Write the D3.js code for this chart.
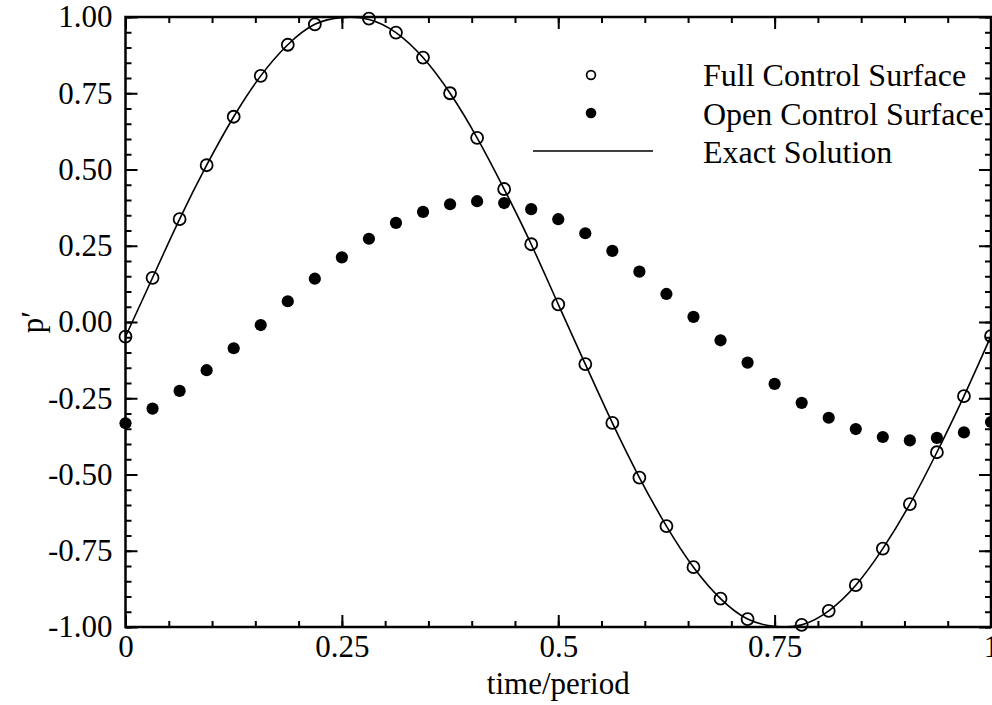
<!DOCTYPE html>
<html><head><meta charset="utf-8">
<script src="https://cdn.jsdelivr.net/npm/d3@7"></script>
<style>
body{margin:0;background:#fff}
svg{display:block}
text{font-family:"Liberation Serif","Times New Roman",serif;fill:#000}
</style>
</head><body><svg id="chart" width="992" height="705"></svg>
<script>
// ---- data ----
const timeSteps = [0,0.03125,0.0625,0.09375,0.125,0.15625,0.1875,0.21875,0.25,0.28125,0.3125,0.34375,0.375,0.40625,0.4375,0.46875,0.5,0.53125,0.5625,0.59375,0.625,0.65625,0.6875,0.71875,0.75,0.78125,0.8125,0.84375,0.875,0.90625,0.9375,0.96875,1];
const fullSurface = [-0.048,0.145,0.337,0.514,0.673,0.807,0.909,0.976,null,0.995,0.949,0.867,0.750,0.604,0.436,0.255,0.058,-0.138,-0.331,-0.510,-0.669,-0.804,-0.907,-0.974,null,-0.993,-0.947,-0.863,-0.743,-0.597,-0.427,-0.243,-0.046];
const openSurface = [-0.332,-0.284,-0.226,-0.158,-0.086,-0.010,0.068,0.142,0.212,0.273,0.325,0.361,0.386,0.396,0.390,0.370,0.337,0.291,0.233,0.165,0.092,0.017,-0.060,-0.133,-0.203,-0.265,-0.314,-0.351,-0.377,-0.388,-0.380,-0.362,-0.328];
const exactSolution = [-0.048,0.145,0.337,0.514,0.673,0.807,0.909,0.976,0.998,0.992,0.949,0.867,0.750,0.604,0.436,0.255,0.058,-0.138,-0.331,-0.510,-0.669,-0.804,-0.907,-0.974,-0.998,-0.993,-0.947,-0.863,-0.743,-0.597,-0.427,-0.243,-0.046];
const xTickValues = [0,0.25,0.5,0.75,1];
const xTickLabels = ["0","0.25","0.5","0.75","1"];
const yTickValues = [-1,-0.75,-0.5,-0.25,0,0.25,0.5,0.75,1];
const yTickLabels = ["-1.00","-0.75","-0.50","-0.25","0.00","0.25","0.50","0.75","1.00"];
const legendLabels = ["Full Control Surface","Open Control Surface","Exact Solution"];
const xTitle = "time/period";
const yTitle = "p\u2032";

// ---- layout ----
const PL = 125.5, PR = 991, PT = 17, PB = 627;
const FS = 31, FSL = 32;
const svg = d3.select("#chart");
const x = d3.scaleLinear().domain([0,1]).range([PL,PR]);
const y = d3.scaleLinear().domain([-1,1]).range([PB,PT]);

const minorX = d3.range(0,1.0001,0.05);
const minorY = d3.range(-1,1.0001,0.05);

function styleAxis(g){
  g.select(".domain").remove();
  g.selectAll(".tick line").attr("stroke","#000").attr("stroke-width",2);
  g.selectAll(".tick text").style("font-size",FS+"px").attr("fill","#000")
   .style("font-family",'"Liberation Serif","Times New Roman",serif');
}
// minor ticks
svg.append("g").attr("transform",`translate(0,${PB})`)
  .call(d3.axisBottom(x).tickValues(minorX).tickFormat("").tickSize(-6).tickSizeOuter(0)).call(styleAxis);
svg.append("g").attr("transform",`translate(0,${PT})`)
  .call(d3.axisTop(x).tickValues(minorX).tickFormat("").tickSize(-6).tickSizeOuter(0)).call(styleAxis);
svg.append("g").attr("transform",`translate(${PL},0)`)
  .call(d3.axisLeft(y).tickValues(minorY).tickFormat("").tickSize(-6).tickSizeOuter(0)).call(styleAxis);
svg.append("g").attr("transform",`translate(${PR},0)`)
  .call(d3.axisRight(y).tickValues(minorY).tickFormat("").tickSize(-6).tickSizeOuter(0)).call(styleAxis);
// major ticks
svg.append("g").attr("transform",`translate(0,${PB})`)
  .call(d3.axisBottom(x).tickValues(xTickValues).tickFormat((d,i)=>xTickLabels[i]).tickSize(-12).tickSizeOuter(0).tickPadding(8)).call(styleAxis);
svg.append("g").attr("transform",`translate(0,${PT})`)
  .call(d3.axisTop(x).tickValues(xTickValues).tickFormat("").tickSize(-12).tickSizeOuter(0)).call(styleAxis);
svg.append("g").attr("transform",`translate(${PL},0)`)
  .call(d3.axisLeft(y).tickValues(yTickValues).tickFormat((d,i)=>yTickLabels[i]).tickSize(-12).tickSizeOuter(0).tickPadding(13)).call(styleAxis);
svg.append("g").attr("transform",`translate(${PR},0)`)
  .call(d3.axisRight(y).tickValues(yTickValues).tickFormat("").tickSize(-12).tickSizeOuter(0)).call(styleAxis);

// frame
svg.append("rect").attr("x",PL).attr("y",PT).attr("width",PR-PL).attr("height",PB-PT)
  .attr("fill","none").attr("stroke","#000").attr("stroke-width",2.5);

// exact solution line
const line = d3.line().x((d,i)=>x(timeSteps[i])).y(d=>y(d)).curve(d3.curveNatural);
svg.append("path").datum(exactSolution).attr("d",line).attr("fill","none").attr("stroke","#000").attr("stroke-width",1.6);

// open control surface (filled)
svg.append("g").selectAll("circle").data(openSurface).join("circle")
  .attr("cx",(d,i)=>x(timeSteps[i])).attr("cy",d=>y(d)).attr("r",6.1).attr("fill","#000");

// full control surface (open circles)
svg.append("g").selectAll("circle").data(fullSurface.map((v,i)=>({t:timeSteps[i],v})).filter(d=>d.v!==null)).join("circle")
  .attr("cx",d=>x(d.t)).attr("cy",d=>y(d.v)).attr("r",6).attr("fill","none").attr("stroke","#000").attr("stroke-width",1.8);

// legend
const lg = svg.append("g");
lg.append("circle").attr("cx",591).attr("cy",75).attr("r",4.4).attr("fill","none").attr("stroke","#000").attr("stroke-width",1.7);
lg.append("circle").attr("cx",591).attr("cy",113).attr("r",5.3).attr("fill","#000");
lg.append("line").attr("x1",533).attr("x2",653).attr("y1",151).attr("y2",151).attr("stroke","#000").attr("stroke-width",1.6);
lg.selectAll("text").data(legendLabels).join("text")
  .attr("x",703).attr("y",(d,i)=>86+i*38.5).style("font-size",FSL+"px").text(d=>d);

// axis titles
svg.append("text").attr("x",x(0.5)).attr("y",694).attr("text-anchor","middle").style("font-size",FS+"px").text(xTitle);
svg.append("text").attr("transform",`translate(43,${(PT+PB)/2}) rotate(-90)`).attr("text-anchor","middle").style("font-size",FS+"px").text(yTitle);
</script></body></html>
